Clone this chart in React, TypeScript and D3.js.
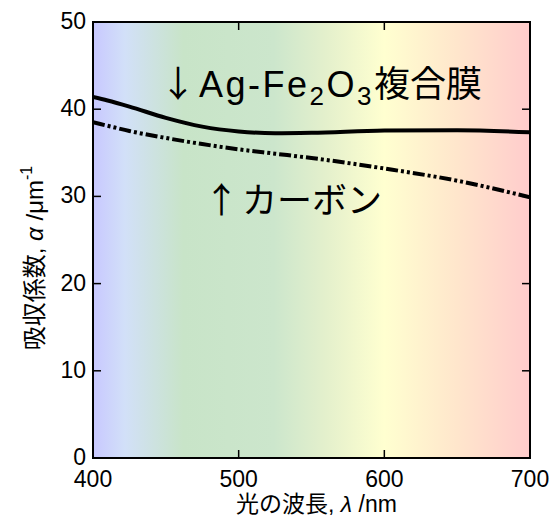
import React from 'react';
import * as d3 from 'd3';

// wavelength (nm) and absorption coefficient (1/um)
const wavelengths = [400, 410, 425, 450, 475, 500, 525, 550, 600, 650, 700];
const agFe2O3 = [41.4, 41.0, 40.3, 39.0, 38.0, 37.45, 37.25, 37.3, 37.55, 37.6, 37.35];
const carbon = [38.5, 38.1, 37.5, 36.7, 36.0, 35.4, 34.9, 34.4, 33.2, 31.8, 29.9];

const xTicks = [400, 500, 600, 700];
const yTicks = [0, 10, 20, 30, 40, 50];

// background spectrum: wavelength -> colour
const spectrumNm = [400, 422, 462, 524, 560, 600, 650, 700];
const spectrumColors = ['#c8c8ff', '#d2e0f8', '#c8e4c8', '#cce6cc', '#e4f0cc', '#ffffd0', '#ffe6cc', '#ffcccc'];

const W = 552;
const H = 516;
const margin = { top: 22, right: 22, bottom: 58, left: 93 };
const font = '"Liberation Sans", Arial, "Noto Sans CJK JP", sans-serif';
const cjk = '"Noto Sans CJK JP", sans-serif';

const App = () => {
  const x = d3.scaleLinear().domain([400, 700]).range([margin.left, W - margin.right]);
  const y = d3.scaleLinear().domain([0, 50]).range([H - margin.bottom, margin.top]);
  const [x0, x1] = x.range();
  const [y0, y1] = y.range();

  const line = d3
    .line<number>()
    .x((_, i) => x(wavelengths[i]))
    .y((d) => y(d))
    .curve(d3.curveMonotoneX);

  const tick = 8;

  return (
    <svg width={W} height={H} style={{ position: 'absolute', left: 0, top: 0 }} fontFamily={font}>
      <defs>
        <linearGradient id="spectrum" gradientUnits="userSpaceOnUse" x1={x0} x2={x1} y1={0} y2={0}>
          {spectrumNm.map((nm, i) => (
            <stop key={nm} offset={(x(nm) - x0) / (x1 - x0)} stopColor={spectrumColors[i]} />
          ))}
        </linearGradient>
        <clipPath id="plot">
          <rect x={x0} y={y1} width={x1 - x0} height={y0 - y1} />
        </clipPath>
      </defs>

      <rect x={x0} y={y1} width={x1 - x0} height={y0 - y1} fill="url(#spectrum)" />

      <g clipPath="url(#plot)" fill="none" stroke="#000">
        <path d={line(agFe2O3) ?? ''} strokeWidth={4} />
        <path d={line(carbon) ?? ''} strokeWidth={4} strokeDasharray="12,3,3,3,3,3" />
      </g>

      {/* inward ticks on all four sides */}
      <g stroke="#000" strokeWidth={1.5}>
        {xTicks.map((t) => (
          <g key={t}>
            <line x1={x(t)} x2={x(t)} y1={y0} y2={y0 - tick} />
            <line x1={x(t)} x2={x(t)} y1={y1} y2={y1 + tick} />
          </g>
        ))}
        {yTicks.map((t) => (
          <g key={t}>
            <line x1={x0} x2={x0 + tick} y1={y(t)} y2={y(t)} />
            <line x1={x1} x2={x1 - tick} y1={y(t)} y2={y(t)} />
          </g>
        ))}
      </g>
      <rect x={x0} y={y1} width={x1 - x0} height={y0 - y1} fill="none" stroke="#000" strokeWidth={2} />

      <g fontSize={23} fill="#000">
        {xTicks.map((t) => (
          <text key={t} x={x(t)} y={487} textAnchor="middle">{t}</text>
        ))}
        {yTicks.map((t) => (
          <text key={t} x={86} y={y(t) + 7} textAnchor="end">{t}</text>
        ))}
      </g>

      <text x={(x0 + x1) / 2 + 5} y={512} textAnchor="middle" fontSize={23}>
        光の波長, <tspan fontStyle="italic">λ</tspan> /nm
      </text>
      <text transform={`translate(43, 258) rotate(-90)`} textAnchor="middle" fontSize={24}>
        吸収係数, <tspan fontStyle="italic">α</tspan> /μm<tspan fontSize={16} dy={-11}>-1</tspan>
      </text>

      <text x={160} y={97} fontSize={36} fontFamily={cjk}>↓</text>
      <text x={199} y={97} fontSize={36} letterSpacing={2.5}>
        Ag-Fe<tspan fontSize={26} dy={8}>2</tspan>
        <tspan dy={-8}>O</tspan>
        <tspan fontSize={26} dy={8}>3</tspan>
        <tspan dy={-8} letterSpacing={0}>複合膜</tspan>
      </text>
      <text x={204} y={213} fontSize={35} fontFamily={cjk}>↑</text>
      <text x={242} y={213} fontSize={35}>カーボン</text>
    </svg>
  );
};

export default App;
